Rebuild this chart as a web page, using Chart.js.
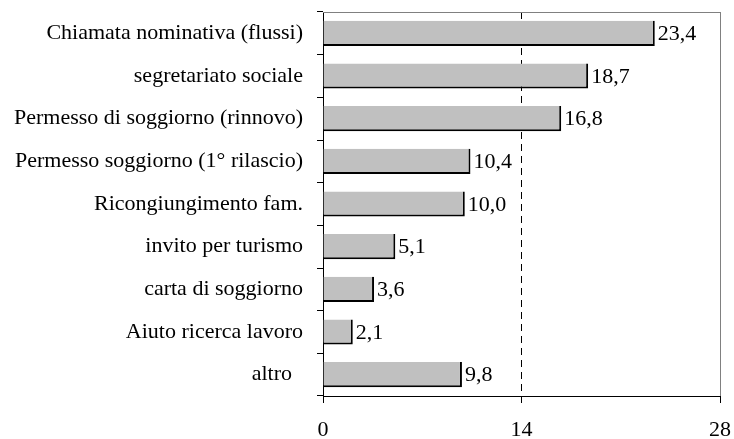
<!DOCTYPE html>
<html>
<head>
<meta charset="utf-8">
<script src="https://cdn.jsdelivr.net/npm/chart.js@4"></script>
<style>
  html, body { margin: 0; padding: 0; background: #fff; }
  #wrap { width: 734px; height: 439px; }
</style>
</head>
<body>
<div id="wrap"><canvas id="c" width="734" height="439"></canvas></div>
<script>
const categories = [
    "Chiamata nominativa (flussi)",
    "segretariato sociale",
    "Permesso di soggiorno (rinnovo)",
    "Permesso soggiorno (1° rilascio)",
    "Ricongiungimento fam.",
    "invito per turismo",
    "carta di soggiorno",
    "Aiuto ricerca lavoro",
    "altro  "
];
const values = [23.4, 18.7, 16.8, 10.4, 10.0, 5.1, 3.6, 2.1, 9.8];
const xTicks = [0, 14, 28];

const FONT = "'Liberation Serif', 'Times New Roman', serif";
const FONT_SIZE = 22;
const BAR_COLOR = "#c0c0c0";

const valueLabels = {
    id: "valueLabels",
    afterDatasetsDraw(chart) {
        const ctx = chart.ctx;
        const meta = chart.getDatasetMeta(0);
        ctx.save();
        ctx.font = FONT_SIZE + "px " + FONT;
        ctx.fillStyle = "#000";
        ctx.textAlign = "left";
        ctx.textBaseline = "middle";
        meta.data.forEach((bar, i) => {
            const text = values[i].toFixed(1).replace(".", ",");
            ctx.fillText(text, bar.x + 3, bar.y + 1);
        });
        ctx.restore();
    }
};

const topBorder = {
    id: "topBorder",
    beforeDatasetsDraw(chart) {
        const { ctx, chartArea } = chart;
        ctx.save();
        ctx.strokeStyle = "#808080";
        ctx.lineWidth = 1;
        ctx.beginPath();
        ctx.moveTo(chartArea.left, chartArea.top + 0.5);
        ctx.lineTo(chartArea.right, chartArea.top + 0.5);
        ctx.stroke();
        ctx.restore();
    }
};

new Chart(document.getElementById("c").getContext("2d"), {
    type: "bar",
    data: {
        labels: categories,
        datasets: [{
            data: values,
            backgroundColor: BAR_COLOR,
            borderColor: "#000",
            borderWidth: { top: 0, left: 0, right: 2, bottom: 2 },
            borderSkipped: false,
            barPercentage: 0.59,
            categoryPercentage: 1
        }]
    },
    options: {
        indexAxis: "y",
        responsive: false,
        animation: false,
        layout: { padding: { left: 0, right: 14, top: 12, bottom: 0 } },
        plugins: {
            legend: { display: false },
            tooltip: { enabled: false }
        },
        scales: {
            x: {
                min: 0,
                max: 28,
                afterBuildTicks: (scale) => {
                    scale.ticks = xTicks.map(v => ({ value: v }));
                },
                afterFit: (scale) => {
                    scale.height = 43;
                    scale.paddingLeft = 0;
                    scale.paddingRight = 0;
                },
                ticks: {
                    color: "#000",
                    font: { family: FONT, size: FONT_SIZE },
                    padding: 14,
                    maxRotation: 0
                },
                grid: {
                    color: (c) => c.tick && c.tick.value === 28 ? "#808080" : (c.tick && c.tick.value === 14 ? "#000" : "rgba(0,0,0,0)"),
                    tickColor: "#000",
                    tickLength: 7,
                    lineWidth: 1
                },
                border: {
                    color: "#000",
                    width: 1,
                    dash: (c) => c.tick && c.tick.value === 14 ? [7, 5] : []
                }
            },
            y: {
                afterFit: (scale) => {
                    scale.width = 323;
                    scale.paddingTop = 0;
                    scale.paddingBottom = 0;
                },
                ticks: {
                    color: "#000",
                    font: { family: FONT, size: FONT_SIZE },
                    padding: 14
                },
                grid: {
                    offset: true,
                    drawOnChartArea: false,
                    color: "#000",
                    tickLength: 6
                },
                border: { color: "#000", width: 1 }
            }
        }
    },
    plugins: [topBorder, valueLabels]
});
</script>
</body>
</html>
